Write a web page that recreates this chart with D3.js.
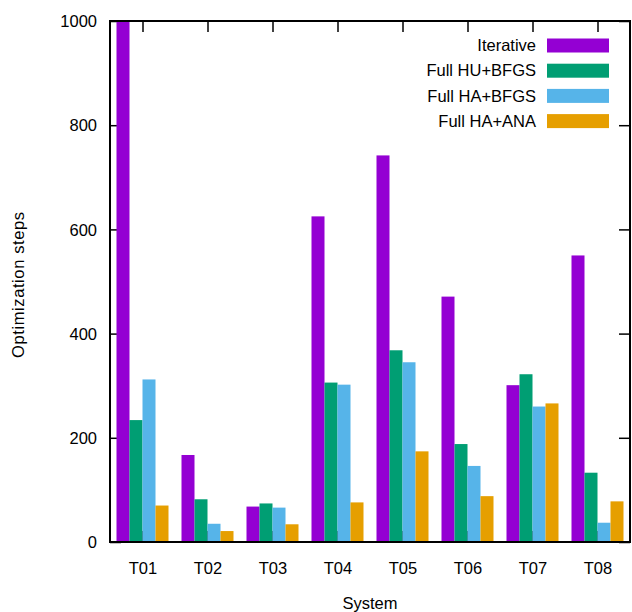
<!DOCTYPE html>
<html>
<head>
<meta charset="utf-8">
<script src="https://cdn.jsdelivr.net/npm/d3@7"></script>
<style>
  html, body { margin: 0; padding: 0; background: #fff; }
  text { font-family: "Liberation Sans", Arial, sans-serif; fill: #000; }
</style>
</head>
<body>
<svg id="chart" width="632" height="612"></svg>
<script>
const categories = ["T01", "T02", "T03", "T04", "T05", "T06", "T07", "T08"];
const seriesNames = ["Iterative", "Full HU+BFGS", "Full HA+BFGS", "Full HA+ANA"];
const iterative = [1000, 167, 68, 625, 742, 471, 301, 550];
const fullHUBFGS = [234, 82, 74, 306, 368, 188, 322, 133];
const fullHABFGS = [312, 35, 66, 302, 345, 146, 260, 37];
const fullHAANA = [70, 21, 34, 76, 174, 88, 266, 78];
const yTicks = [0, 200, 400, 600, 800, 1000];
const colors = ["#9400d3", "#009e73", "#56b4e9", "#e69f00"];

const series = [iterative, fullHUBFGS, fullHABFGS, fullHAANA];

const svg = d3.select("#chart");
const mLeft = 110, mRight = 630, mTop = 21, mBottom = 542;

const x = d3.scaleLinear().domain([-0.5, categories.length - 0.5]).range([mLeft, mRight]);
const y = d3.scaleLinear().domain([0, 1000]).range([mBottom, mTop]);

const tickLen = 11;

// axes (ticks drawn behind bars)
const gx = svg.append("g").attr("transform", `translate(0,${mBottom})`)
  .call(d3.axisBottom(x).tickValues(d3.range(categories.length))
    .tickFormat(i => categories[i]).tickSizeInner(-tickLen).tickSizeOuter(0).tickPadding(20));
const gxTop = svg.append("g").attr("transform", `translate(0,${mTop})`)
  .call(d3.axisTop(x).tickValues(d3.range(categories.length))
    .tickFormat("").tickSizeInner(-tickLen).tickSizeOuter(0));
const gy = svg.append("g").attr("transform", `translate(${mLeft},0)`)
  .call(d3.axisLeft(y).tickValues(yTicks).tickFormat(d3.format("d"))
    .tickSizeInner(-tickLen).tickSizeOuter(0).tickPadding(13));
const gyR = svg.append("g").attr("transform", `translate(${mRight},0)`)
  .call(d3.axisRight(y).tickValues(yTicks).tickFormat("").tickSizeInner(-tickLen).tickSizeOuter(0));

[gx, gxTop, gy, gyR].forEach(g => {
  g.select(".domain").remove();
  g.selectAll(".tick line").attr("stroke", "#000").attr("stroke-width", 1.5);
  g.selectAll(".tick text").style("font-size", "16.5px").attr("font-family", "Liberation Sans, Arial, sans-serif");
});
gy.selectAll(".tick text").attr("dy", "0.35em");

// bars
svg.append("clipPath").attr("id", "clip").append("rect")
  .attr("x", mLeft).attr("y", mTop).attr("width", mRight - mLeft).attr("height", mBottom - mTop);

const bw = 0.2;
const barsG = svg.append("g").attr("clip-path", "url(#clip)");
series.forEach((vals, s) => {
  barsG.selectAll(null).data(vals).enter().append("rect")
    .attr("x", (d, i) => x(i - 0.4 + s * bw))
    .attr("width", x(bw) - x(0))
    .attr("y", d => y(d))
    .attr("height", d => y(0) - y(d))
    .attr("fill", colors[s]);
});

// border
svg.append("rect").attr("x", mLeft).attr("y", mTop).attr("width", mRight - mLeft).attr("height", mBottom - mTop)
  .attr("fill", "none").attr("stroke", "#000").attr("stroke-width", 2);

// legend
const legend = svg.append("g");
seriesNames.forEach((name, s) => {
  const cy = 45.5 + s * 25.2;
  legend.append("text").attr("x", 536).attr("y", cy).attr("dy", "0.35em")
    .attr("text-anchor", "end").style("font-size", "16.5px").text(name);
  legend.append("rect").attr("x", 547).attr("y", cy - 7).attr("width", 62).attr("height", 14)
    .attr("fill", colors[s]);
});

// axis labels
svg.append("text").attr("transform", "translate(24,285) rotate(-90)")
  .attr("text-anchor", "middle").style("font-size", "16.5px")
  .attr("textLength", 146).attr("lengthAdjust", "spacing").text("Optimization steps");
svg.append("text").attr("x", 370).attr("y", 609)
  .attr("text-anchor", "middle").style("font-size", "16.5px").text("System");
</script>
</body>
</html>
